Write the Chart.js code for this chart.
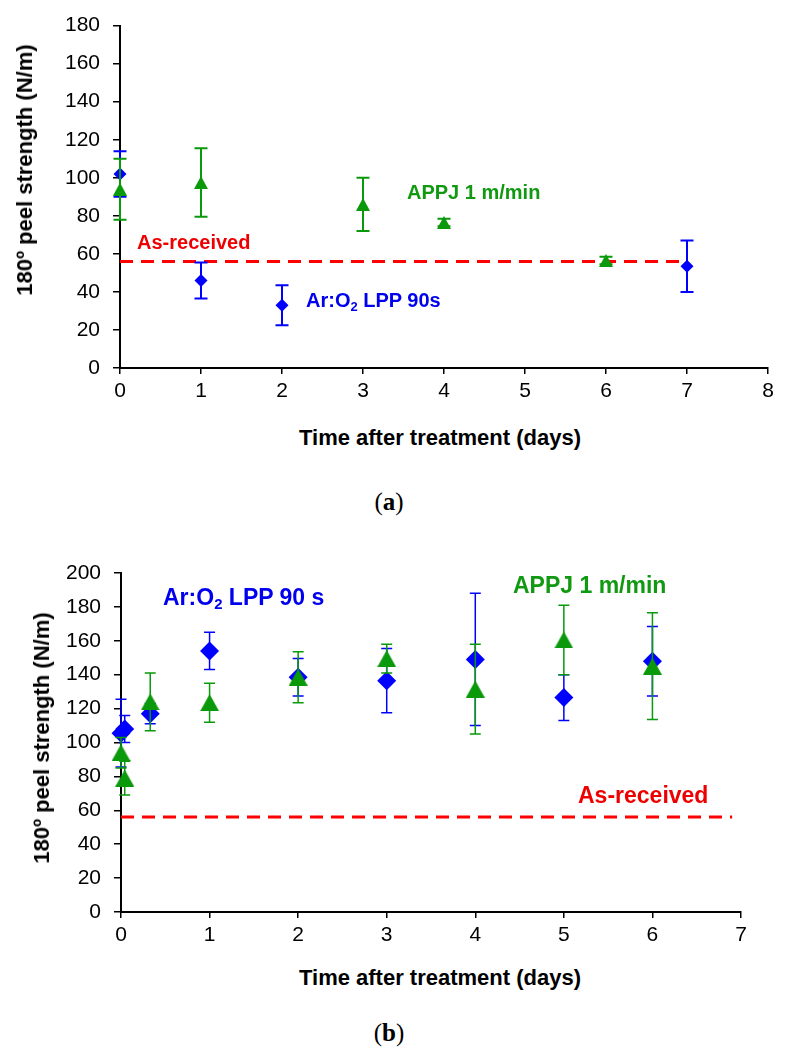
<!DOCTYPE html>
<html>
<head>
<meta charset="utf-8">
<script src="https://cdn.jsdelivr.net/npm/chart.js@4.4.0/dist/chart.umd.min.js"></script>
<style>
  html, body { margin: 0; padding: 0; background: #fff; }
  body { width: 786px; height: 1050px; position: relative; overflow: hidden; font-family: 'Liberation Sans', Arial, sans-serif; }
  canvas { position: absolute; left: 0; }
  .lbl { position: absolute; font-weight: bold; white-space: nowrap; line-height: 1; transform: translateY(-50%); }
  .lbl sub { font-size: 0.65em; vertical-align: baseline; position: relative; top: 0.3em; line-height: 0; }
  .ytitle { position: absolute; font-weight: bold; font-size: 22px; white-space: nowrap; line-height: 1; transform: translate(-50%, -50%) rotate(-90deg); }
  .xtitle { position: absolute; font-weight: bold; font-size: 22px; white-space: nowrap; line-height: 1; transform: translate(-50%, -50%); }
  .cap { position: absolute; font-family: 'Liberation Serif', 'DejaVu Serif', serif; font-size: 25px; line-height: 1; transform: translate(-50%, -50%); white-space: nowrap; }
  .cap b { font-weight: bold; }
</style>
</head>
<body>
<canvas id="chartA" width="786" height="420" style="top:0px"></canvas>
<canvas id="chartB" width="786" height="440" style="top:520px"></canvas>

<div class="ytitle" style="left:25px; top:170px;">180º peel strength (N/m)</div>
<div class="xtitle" style="left:440px; top:438px;">Time after treatment (days)</div>
<div class="lbl" style="left:137px; top:242px; font-size:20px; color:#ee0000;">As-received</div>
<div class="lbl" style="left:306px; top:300px; font-size:20px; color:#0000ee;">Ar:O<sub>2</sub> LPP 90s</div>
<div class="lbl" style="left:407px; top:192px; font-size:20px; color:#119911;">APPJ 1 m/min</div>
<div class="cap" style="left:389px; top:501px;">(<b>a</b>)</div>

<div class="ytitle" style="left:42px; top:738px;">180º peel strength (N/m)</div>
<div class="xtitle" style="left:440px; top:978px;">Time after treatment (days)</div>
<div class="lbl" style="left:163px; top:597px; font-size:23px; color:#0000ee;">Ar:O<sub>2</sub> LPP 90 s</div>
<div class="lbl" style="left:513px; top:585px; font-size:23px; color:#119911;">APPJ 1 m/min</div>
<div class="lbl" style="left:578px; top:795px; font-size:23px; color:#ee0000;">As-received</div>
<div class="cap" style="left:389px; top:1032px;">(<b>b</b>)</div>

<script>
// ---------- Data: panel (a) ----------
const aBlueDays = [0, 1, 2, 7];
const aBlueValues = [102, 46, 33, 53.5];
const aBlueErrors = [12, 9.5, 10.5, 13.5];
const aGreenDays = [0, 1, 3, 4, 6];
const aGreenValues = [94, 97.5, 86, 76.5, 56.5];
const aGreenErrors = [16, 18, 14, 2, 2];
const aAsReceivedDays = [0, 7];
const aXTicks = [0, 8, 1];    // min, max, step
const aYTicks = [0, 180, 20];

// ---------- Data: panel (b) ----------
const bBlueDays = [0, 0.042, 0.33, 1, 2, 3, 4, 5, 6];
const bBlueValues = [105.5, 108, 117, 154, 138.5, 136.5, 149, 126.5, 148];
const bBlueErrors = [20, 8, 6, 11, 11, 19, 39, 13.5, 20.5];
const bGreenDays = [0, 0.042, 0.33, 1, 2, 3, 4, 5, 6];
const bGreenValues = [94, 79, 124, 123.5, 138.5, 149.5, 131.5, 160.5, 145];
const bGreenErrors = [9, 10, 17, 11.5, 15, 8.5, 26.5, 20.5, 31.5];
const bAsReceivedDays = [0, 6.9];
const bXTicks = [0, 7, 1];
const bYTicks = [0, 200, 20];

const asReceived = 56;

const BLUE = '#0000ff';
const GREEN = '#0a990a';
const RED = '#ff0000';

function triangle(w, h, color) {
  const c = document.createElement('canvas');
  c.width = w; c.height = h;
  const g = c.getContext('2d');
  g.fillStyle = color;
  g.beginPath();
  g.moveTo(w / 2, 0); g.lineTo(w, h); g.lineTo(0, h); g.closePath();
  g.fill();
  return c;
}

const errorBars = {
  id: 'errorBars',
  beforeDatasetDraw(chart, args) {
    const ds = chart.data.datasets[args.index];
    if (!ds.errors) return;
    const ctx = chart.ctx, xs = chart.scales.x, ys = chart.scales.y;
    ctx.save();
    ctx.strokeStyle = ds.errColor;
    ctx.lineWidth = ds.errWidth;
    const cap = ds.capHalf;
    ds.data.forEach((p, i) => {
      const e = ds.errors[i];
      const px = xs.getPixelForValue(p.x);
      const t = ys.getPixelForValue(p.y + e);
      const b = ys.getPixelForValue(p.y - e);
      ctx.beginPath();
      ctx.moveTo(px, t); ctx.lineTo(px, b);
      ctx.moveTo(px - cap, t); ctx.lineTo(px + cap, t);
      ctx.moveTo(px - cap, b); ctx.lineTo(px + cap, b);
      ctx.stroke();
    });
    ctx.restore();
  }
};

function pts(xs, ys) { return xs.map((x, i) => ({ x: x, y: ys[i] })); }

function makeChart(id, cfg) {
  const ds = [
    {
      data: pts(cfg.greenDays, cfg.greenValues), errors: cfg.greenErrors,
      errColor: GREEN, errWidth: cfg.errWidth, capHalf: cfg.capHalf,
      pointStyle: triangle(cfg.triW, cfg.triH, GREEN), pointRadius: 8, pointHoverRadius: 8,
      backgroundColor: GREEN, borderColor: GREEN, borderWidth: 0, order: 0, clip: false
    },
    {
      data: pts(cfg.blueDays, cfg.blueValues), errors: cfg.blueErrors,
      errColor: BLUE, errWidth: cfg.errWidth, capHalf: cfg.capHalf,
      pointStyle: 'rectRot', pointRadius: cfg.diamondR, pointHoverRadius: cfg.diamondR,
      backgroundColor: BLUE, borderColor: BLUE, borderWidth: 0, order: 1, clip: false
    },
    {
      data: pts(cfg.lineDays, cfg.lineDays.map(() => asReceived)),
      showLine: true, pointRadius: 0, borderColor: RED, borderWidth: 3,
      borderDash: [13, 8], order: 2, clip: false
    }
  ];
  return new Chart(document.getElementById(id), {
    type: 'scatter',
    data: { datasets: ds },
    plugins: [errorBars],
    options: {
      responsive: false, animation: false, devicePixelRatio: 1,
      layout: { padding: cfg.padding },
      plugins: { legend: { display: false }, tooltip: { enabled: false } },
      scales: {
        x: {
          type: 'linear', min: cfg.xTicks[0], max: cfg.xTicks[1],
          ticks: { stepSize: cfg.xTicks[2], color: '#000', font: { family: 'Liberation Sans', size: 21 }, padding: 5 },
          grid: { drawOnChartArea: false, drawTicks: true, tickLength: 6, color: '#000', lineWidth: 1.5 },
          border: { display: true, color: '#000', width: 2 },
          afterFit(s) { s.height = cfg.xHeight; }
        },
        y: {
          type: 'linear', min: cfg.yTicks[0], max: cfg.yTicks[1],
          ticks: { stepSize: cfg.yTicks[2], color: '#000', font: { family: 'Liberation Sans', size: 21 }, padding: 13 },
          grid: { drawOnChartArea: false, drawTicks: true, tickLength: 7, color: '#000', lineWidth: 1.5 },
          border: { display: true, color: '#000', width: 2 },
          afterFit(s) { s.width = cfg.yWidth; }
        }
      }
    }
  });
}

makeChart('chartA', {
  blueDays: aBlueDays, blueValues: aBlueValues, blueErrors: aBlueErrors,
  greenDays: aGreenDays, greenValues: aGreenValues, greenErrors: aGreenErrors,
  lineDays: aAsReceivedDays, xTicks: aXTicks, yTicks: aYTicks,
  padding: { top: 21, right: 18, bottom: 0, left: 0 }, xHeight: 52, yWidth: 120,
  triW: 14, triH: 13, diamondR: 6.5, capHalf: 6.5, errWidth: 2
});

makeChart('chartB', {
  blueDays: bBlueDays, blueValues: bBlueValues, blueErrors: bBlueErrors,
  greenDays: bGreenDays, greenValues: bGreenValues, greenErrors: bGreenErrors,
  lineDays: bAsReceivedDays, xTicks: bXTicks, yTicks: bYTicks,
  padding: { top: 53, right: 45, bottom: 0, left: 0 }, xHeight: 48, yWidth: 121,
  triW: 19, triH: 17, diamondR: 9.5, capHalf: 5.5, errWidth: 1.5
});
</script>
</body>
</html>
